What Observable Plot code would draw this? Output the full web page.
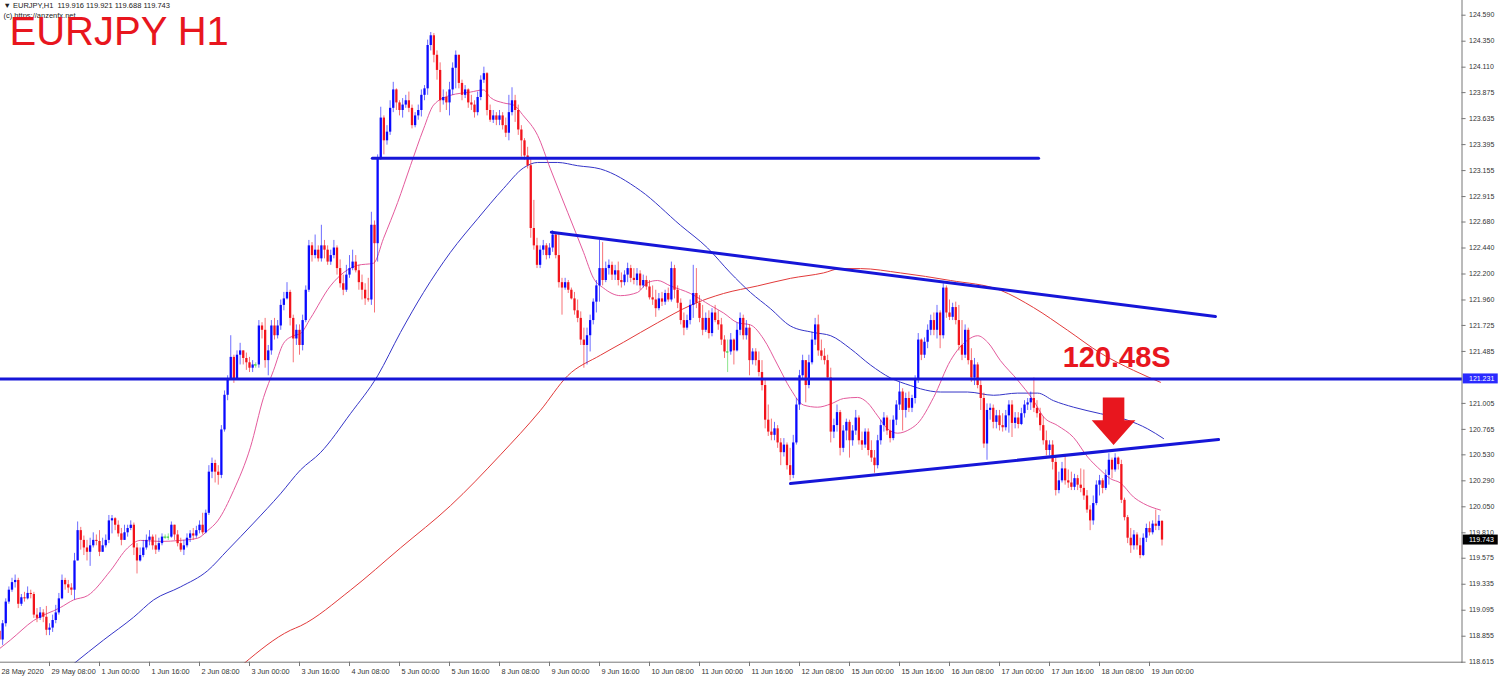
<!DOCTYPE html>
<html><head><meta charset="utf-8">
<script src="https://cdn.jsdelivr.net/npm/d3@7"></script>
<script src="https://cdn.jsdelivr.net/npm/@observablehq/plot@0.6"></script>
<style>
html,body{margin:0;padding:0;background:#fff;}
#chart{width:1500px;height:681px;overflow:hidden;}
svg{display:block;}
</style></head><body><div id="chart"></div>
<script>
// ---- hourly EURJPY bars, index 0 = 28 May 16:00 ----
const firstOpen = 118.90;
const closes = [
/*0*/ 118.82,118.97,119.17,119.28,119.35,119.37,119.15,119.21,119.20,119.25,
/*10*/119.24,119.05,119.02,119.07,119.03,118.91,118.93,119.00,119.07,119.20,
/*20*/119.37,119.33,119.30,119.28,119.55,119.83,119.74,119.67,119.63,119.69,
/*30*/119.74,119.73,119.63,119.69,119.74,119.92,119.94,119.88,119.80,119.74,
/*40*/119.81,119.85,119.88,119.67,119.55,119.60,119.67,119.74,119.77,119.69,
/*50*/119.65,119.71,119.77,119.77,119.77,119.88,119.79,119.71,119.65,119.69,
/*60*/119.76,119.80,119.78,119.83,119.88,119.81,119.99,120.37,120.45,120.37,
/*70*/120.34,120.76,121.08,121.22,121.43,121.22,121.45,121.49,121.42,121.38,
/*80*/121.33,121.36,121.36,121.72,121.68,121.40,121.49,121.72,121.63,121.72,
/*90*/121.91,121.97,122.03,121.79,121.60,121.68,121.54,121.77,122.05,122.46,
/*100*/122.37,122.42,122.34,122.46,122.42,122.31,122.37,122.44,122.25,122.11,
/*110*/122.05,122.19,122.25,122.31,122.23,122.12,122.05,121.97,121.96,122.65,
/*120*/122.48,123.27,123.64,123.43,123.51,123.73,123.90,123.78,123.71,123.76,
/*130*/123.80,123.73,123.57,123.66,123.71,123.85,123.91,124.31,124.40,124.22,
/*140*/124.08,123.80,123.83,123.78,123.90,124.10,124.22,123.96,123.85,123.90,
/*150*/123.78,123.76,123.69,123.83,123.99,124.05,123.71,123.62,123.66,123.62,
/*160*/123.66,123.57,123.50,123.69,123.80,123.71,123.53,123.43,123.29,123.20,
/*170*/122.62,122.46,122.28,122.42,122.46,122.37,122.44,122.56,122.37,122.12,
/*180*/122.07,122.12,122.05,121.97,121.86,121.79,121.59,121.54,121.63,121.77,
/*190*/121.94,122.09,122.25,122.14,122.25,122.28,122.19,122.23,122.14,122.12,
/*200*/122.19,122.25,122.16,122.14,122.20,122.09,122.14,122.08,121.98,121.96,
/*210*/121.88,121.97,121.94,122.02,121.96,122.25,122.05,121.93,121.77,121.70,
/*220*/121.77,121.91,122.02,121.93,121.79,121.68,121.79,121.65,121.84,121.77,
/*230*/121.73,121.59,121.48,121.48,121.59,121.49,121.68,121.79,121.63,121.70,
/*240*/121.40,121.48,121.40,121.29,121.17,120.85,120.74,120.71,120.77,120.64,
/*250*/120.55,120.62,120.43,120.34,120.64,120.99,121.26,121.40,121.17,121.38,
/*260*/121.59,121.73,121.49,121.44,121.40,121.24,120.74,120.80,120.92,120.59,
/*270*/120.75,120.83,120.66,120.75,120.87,120.66,120.62,120.74,120.57,120.50,
/*280*/120.43,120.66,120.80,120.87,120.75,120.68,120.85,120.99,121.11,120.94,
/*290*/121.05,120.96,121.05,121.22,121.59,121.45,121.57,121.68,121.77,121.68,
/*300*/121.84,121.63,122.07,121.84,121.80,121.89,121.77,121.54,121.45,121.68,
/*310*/121.40,121.24,121.36,121.17,121.05,120.63,120.94,120.96,120.83,120.89,
/*320*/120.80,120.78,120.89,120.99,120.82,120.87,120.81,120.91,120.99,121.01,
/*330*/121.05,120.96,120.91,120.80,120.66,120.57,120.62,120.46,120.20,120.29,
/*340*/120.40,120.29,120.27,120.23,120.31,120.25,120.22,120.15,120.02,119.92,
/*350*/120.08,120.25,120.29,120.22,120.34,120.48,120.39,120.50,120.44,120.11,
/*360*/119.95,119.76,119.69,119.79,119.69,119.60,119.76,119.85,119.81,119.89,
/*370*/119.87,119.916,119.743];
const highs = [
/*0*/ 118.86,119.00,119.20,119.31,119.39,119.42,119.39,119.24,119.26,119.31,
/*10*/119.28,119.26,119.11,119.12,119.10,119.13,118.97,119.05,119.14,119.25,
/*20*/119.42,119.39,119.37,119.34,119.62,119.91,119.86,119.78,119.74,119.76,
/*30*/119.81,119.79,119.83,119.76,119.79,119.97,119.97,119.95,119.92,119.85,
/*40*/119.88,119.88,119.92,119.90,119.71,119.67,119.74,119.79,119.83,119.79,
/*50*/119.79,119.76,119.80,119.79,119.80,119.91,119.88,119.83,119.76,119.74,
/*60*/119.80,119.83,119.85,119.87,119.92,119.99,120.02,120.43,120.50,120.48,
/*70*/120.43,120.80,121.12,121.26,121.63,121.45,121.49,121.56,121.49,121.47,
/*80*/121.43,121.40,121.38,121.77,121.75,121.79,121.54,121.77,121.79,121.77,
/*90*/121.96,122.03,122.12,122.05,121.82,121.73,121.73,121.82,122.09,122.51,
/*100*/122.49,122.56,122.46,122.65,122.51,122.46,122.42,122.51,122.46,122.33,
/*110*/122.19,122.28,122.37,122.42,122.37,122.28,122.19,122.11,122.16,122.77,
/*120*/122.69,123.30,123.74,123.66,123.57,123.80,123.97,123.91,123.80,123.82,
/*130*/123.85,123.88,123.76,123.69,123.76,123.90,123.94,124.36,124.43,124.42,
/*140*/124.26,124.15,123.90,123.88,123.97,124.15,124.26,124.22,123.99,123.94,
/*150*/123.91,123.85,123.80,123.88,124.03,124.11,124.06,123.76,123.71,123.69,
/*160*/123.71,123.69,123.64,123.85,123.92,123.85,123.76,123.57,123.45,123.37,
/*170*/123.27,122.88,122.53,122.46,122.51,122.48,122.48,122.60,122.58,122.58,
/*180*/122.16,122.16,122.14,122.07,122.03,121.96,121.85,121.70,121.70,121.82,
/*190*/121.97,122.14,122.51,122.49,122.31,122.33,122.31,122.28,122.31,122.21,
/*200*/122.23,122.30,122.28,122.25,122.25,122.23,122.19,122.18,122.14,122.09,
/*210*/122.05,122.02,122.03,122.05,122.07,122.31,122.28,122.09,121.97,121.84,
/*220*/121.82,121.96,122.28,122.25,122.00,121.91,121.84,121.86,121.88,121.91,
/*230*/121.86,121.79,121.63,121.59,121.65,121.60,121.75,121.84,121.82,121.77,
/*240*/121.73,121.51,121.51,121.48,121.40,121.22,120.99,120.86,120.83,120.80,
/*250*/120.68,120.68,120.64,120.59,120.71,121.05,121.31,121.45,121.38,121.45,
/*260*/121.66,121.79,121.82,121.59,121.51,121.45,121.33,120.86,120.99,120.94,
/*270*/120.80,120.86,120.85,120.80,120.94,120.89,120.74,120.77,120.77,120.66,
/*280*/120.57,120.71,120.85,120.92,120.89,120.85,120.89,121.03,121.20,121.14,
/*290*/121.10,121.11,121.08,121.26,121.65,121.60,121.61,121.73,121.82,121.84,
/*300*/121.91,121.86,122.11,122.09,121.96,121.93,121.94,121.91,121.77,121.73,
/*310*/121.70,121.51,121.42,121.38,121.22,121.10,121.00,121.00,120.99,120.94,
/*320*/120.94,120.91,120.94,121.03,121.03,120.92,120.92,120.96,121.03,121.05,
/*330*/121.11,121.24,121.03,120.96,120.88,120.75,120.66,120.66,120.50,120.37,
/*340*/120.46,120.52,120.39,120.37,120.35,120.34,120.40,120.39,120.20,120.06,
/*350*/120.15,120.29,120.34,120.31,120.39,120.54,120.50,120.54,120.51,120.48,
/*360*/120.13,119.97,119.85,119.83,119.81,119.76,119.80,119.89,119.91,119.92,
/*370*/120.02,119.97,119.921];
const lows = [
/*0*/ 118.74,118.77,118.94,119.15,119.26,119.30,119.11,119.13,119.17,119.19,
/*10*/119.20,119.02,118.98,119.00,118.98,118.86,118.86,118.89,118.97,119.05,
/*20*/119.19,119.28,119.25,119.23,119.19,119.55,119.65,119.60,119.55,119.50,
/*30*/119.67,119.69,119.59,119.63,119.67,119.71,119.80,119.83,119.77,119.69,
/*40*/119.74,119.77,119.83,119.60,119.43,119.54,119.58,119.65,119.69,119.65,
/*50*/119.61,119.63,119.69,119.75,119.74,119.76,119.74,119.68,119.63,119.60,
/*60*/119.67,119.72,119.74,119.76,119.80,119.79,119.80,119.97,120.31,120.27,
/*70*/120.25,120.31,120.74,121.03,121.22,121.19,121.22,121.36,121.36,121.31,
/*80*/121.29,121.29,121.33,121.33,121.60,121.33,121.26,121.45,121.59,121.60,
/*90*/121.68,121.86,121.96,121.72,121.38,121.54,121.45,121.49,121.75,122.03,
/*100*/122.31,122.34,122.31,122.31,122.34,122.28,122.28,122.34,122.19,122.07,
/*110*/122.00,122.03,122.16,122.23,122.21,122.05,121.96,121.91,121.94,121.91,
/*120*/121.84,122.31,123.25,123.30,123.39,123.48,123.69,123.71,123.66,123.64,
/*130*/123.73,123.69,123.54,123.55,123.62,123.65,123.80,123.85,124.26,124.15,
/*140*/123.99,123.69,123.76,123.71,123.66,123.85,123.91,123.91,123.80,123.82,
/*150*/123.73,123.71,123.64,123.66,123.80,123.96,123.66,123.60,123.59,123.57,
/*160*/123.57,123.53,123.46,123.43,123.66,123.60,123.48,123.28,123.25,123.17,
/*170*/122.53,122.42,122.25,122.25,122.37,122.33,122.34,122.40,122.34,122.07,
/*180*/121.82,122.05,122.02,121.96,121.82,121.75,121.54,121.33,121.36,121.48,
/*190*/121.73,121.84,121.94,122.09,122.12,122.19,122.14,122.14,122.09,122.07,
/*200*/122.09,122.12,122.12,122.10,122.09,122.05,122.07,122.05,121.96,121.91,
/*210*/121.80,121.86,121.90,121.91,121.94,121.94,121.97,121.88,121.73,121.63,
/*220*/121.68,121.73,121.79,121.88,121.75,121.63,121.66,121.60,121.62,121.75,
/*230*/121.68,121.54,121.42,121.29,121.45,121.36,121.48,121.63,121.59,121.59,
/*240*/121.26,121.36,121.35,121.25,121.12,120.77,120.70,120.66,120.66,120.59,
/*250*/120.43,120.51,120.39,120.29,120.31,120.62,120.94,121.22,121.01,121.14,
/*260*/121.36,121.54,121.44,121.40,121.36,121.22,120.64,120.68,120.74,120.52,
/*270*/120.55,120.66,120.50,120.61,120.71,120.62,120.57,120.59,120.52,120.46,
/*280*/120.36,120.40,120.62,120.74,120.71,120.64,120.66,120.80,120.94,120.75,
/*290*/120.87,120.92,120.92,121.00,121.19,121.40,121.42,121.51,121.63,121.63,
/*300*/121.60,121.51,121.60,121.79,121.77,121.77,121.73,121.49,121.40,121.42,
/*310*/121.36,121.20,121.17,121.14,120.94,120.59,120.48,120.85,120.77,120.77,
/*320*/120.75,120.74,120.75,120.73,120.69,120.77,120.77,120.80,120.87,120.94,
/*330*/120.94,120.92,120.87,120.75,120.62,120.52,120.52,120.39,120.15,120.17,
/*340*/120.27,120.25,120.22,120.20,120.20,120.20,120.18,120.11,119.99,119.83,
/*350*/119.88,120.06,120.15,120.17,120.20,120.25,120.31,120.37,120.39,120.08,
/*360*/119.92,119.71,119.62,119.65,119.65,119.57,119.59,119.72,119.78,119.79,
/*370*/119.83,119.83,119.688];

// moving averages: [bar index, price]
const pinkMA = [[0,118.74],[3.5,118.82],[10.9,119.00],[19.5,119.12],[23.7,119.19],[28.2,119.23],[35.5,119.46],[41,119.67],[45.1,119.74],[51.5,119.73],[57.9,119.74],[63.4,119.76],[66.6,119.83],[69.8,119.92],[74.9,120.20],[80.3,120.60],[84.5,121.06],[87.7,121.31],[90.9,121.56],[94.1,121.63],[96.3,121.65],[99.5,121.79],[105.9,122.09],[114.6,122.28],[119.7,122.30],[122.9,122.53],[127.4,122.86],[131.5,123.20],[135.7,123.54],[138.9,123.76],[144.3,123.85],[150.7,123.88],[154.9,123.90],[157.1,123.83],[161.3,123.78],[164.5,123.76],[167.7,123.66],[172.2,123.48],[176.3,123.17],[181.8,122.77],[186.9,122.40],[190.1,122.16],[193.3,122.07],[198.7,122.00],[204.2,122.03],[207.4,122.12],[210.6,122.14],[214.7,122.09],[221.1,122.02],[227.5,121.91],[231.7,121.84],[236.2,121.75],[240.3,121.73],[244.5,121.60],[249,121.36],[253.1,121.14],[257.3,120.99],[261.8,120.97],[266,121.00],[270.1,121.05],[274.6,121.06],[277.8,121.01],[281,120.89],[284.2,120.77],[287.4,120.73],[291.5,120.77],[293.8,120.82],[298.9,121.06],[304.3,121.40],[309.8,121.59],[313,121.63],[316.2,121.57],[320.3,121.40],[325.8,121.22],[330.9,121.03],[334.1,120.88],[338.6,120.80],[343.7,120.69],[348.2,120.51],[352.3,120.39],[355.5,120.31],[358.7,120.27],[362.9,120.14],[366.1,120.08],[371.5,120.02]];
const blueMA = [[23.7,118.60],[33.3,118.82],[42.9,119.03],[49.3,119.19],[57.9,119.31],[66.6,119.46],[73,119.65],[81.3,119.90],[89.9,120.17],[96.3,120.39],[102.7,120.55],[112.3,120.91],[121,121.26],[128.3,121.66],[135.7,122.03],[144.3,122.40],[153,122.71],[161.3,122.99],[167.7,123.18],[172.2,123.23],[178.6,123.23],[185,123.20],[192.3,123.17],[205.1,122.97],[217.9,122.65],[226.6,122.44],[233.9,122.21],[240.3,122.03],[246.7,121.88],[253.1,121.72],[260.5,121.66],[266,121.63],[272.3,121.51],[278.7,121.36],[285.1,121.24],[291.5,121.17],[294.7,121.14],[301.1,121.11],[309.8,121.11],[318.1,121.08],[325.8,121.10],[332.2,121.10],[337.3,121.03],[343.7,120.97],[352.3,120.91],[361,120.85],[367.4,120.77],[372.5,120.68]];
const redMA = [[78.1,118.60],[93.1,118.91],[96.3,118.95],[112.3,119.28],[128.3,119.67],[144.3,120.06],[160.3,120.53],[173.1,120.94],[181.8,121.26],[192.3,121.45],[199.7,121.57],[210.6,121.75],[221.1,121.91],[231.7,122.02],[242.6,122.09],[253.1,122.16],[263.7,122.21],[269.1,122.25],[275.5,122.25],[288.3,122.21],[304.3,122.14],[320.3,122.05],[330.9,121.89],[341.8,121.68],[352.3,121.47],[362.9,121.31],[371.5,121.20]];

// drawn lines
const supportLevel = 121.231;
const resistance = [[119.3,123.27],[332.5,123.27]];
const descLine = [[176.6,122.586],[389.1,121.808]];
const ascLine = [[253.1,120.265],[390.1,120.671]];
const arrowTip = [356.5,120.62];
const note = [340.2,121.337,"120.48S"];

// axis labels
const xTickIdx = [0,16,32,48,64,80,96,112,128,144,160,176,192,208,224,240,256,272,288,304,320,336,352,368];
const xTickText = ["28 May 2020","29 May 08:00","1 Jun 00:00","1 Jun 16:00","2 Jun 08:00","3 Jun 00:00","3 Jun 16:00","4 Jun 08:00","5 Jun 00:00","5 Jun 16:00","8 Jun 08:00","9 Jun 00:00","9 Jun 16:00","10 Jun 08:00","11 Jun 00:00","11 Jun 16:00","12 Jun 08:00","15 Jun 00:00","15 Jun 16:00","16 Jun 08:00","17 Jun 00:00","17 Jun 16:00","18 Jun 08:00","19 Jun 00:00"];
const yTickText = ["124.590","124.350","124.110","123.875","123.635","123.395","123.155","122.915","122.680","122.440","122.200","121.960","121.725","121.485","121.005","120.765","120.530","120.290","120.050","119.810","119.575","119.335","119.095","118.855","118.615"];
const lastPrice = "119.743";
const header = "\u25BC EURJPY,H1  119.916 119.921 119.688 119.743";
const credit = "(c) https://anzenfx.net";
const bigTitle = "EURJPY H1";

// ---- build ----
const X0 = 0, X1 = 468, Y0 = 118.615, Y1 = 124.59;
const bars = closes.map((c, i) => {
  const o = i === 0 ? firstOpen : closes[i - 1];
  return {i, o, c, h: Math.max(highs[i], o, c), l: Math.min(lows[i], o, c),
    dir: Math.abs(c - o) < 0.004 ? "doji" : (c > o ? "up" : "down")};
});
const UP = "#0a0aff", DOWN = "#f2141c", DOJI = "#3fd23f";
const colorOf = d => d.dir === "up" ? UP : d.dir === "down" ? DOWN : DOJI;
const LINE = "#1616d8";
const RED = "#e8161e";

const pts = a => a.map(([i, p]) => ({i, p}));
const [ai, ap] = arrowTip;
const headW = 7, shaftW = 3.45, headH = 0.23, shaftH = 0.44;
const arrow = [[ai - shaftW, ap + shaftH], [ai + shaftW, ap + shaftH], [ai + shaftW, ap + headH], [ai + headW, ap + headH], [ai, ap], [ai - headW, ap + headH], [ai - shaftW, ap + headH], [ai - shaftW, ap + shaftH]];

const yTicks = yTickText.map(t => ({v: +t, t}));
const xTicks = xTickIdx.map((i, k) => ({i, t: xTickText[k]}));
const boxH = 0.046;
const labelRight = 479.6;

const chart = Plot.plot({
  width: 1500, height: 681,
  marginLeft: 0, marginRight: 38, marginTop: 0, marginBottom: 18,
  x: {domain: [X0, X1], range: [-1, 1461.5], axis: null},
  y: {domain: [Y0, Y1], range: [661.7, 14.7], axis: null},
  style: {fontFamily: "'Liberation Sans', Arial, sans-serif", background: "#fff", overflow: "visible"},
  marks: [
    // moving averages
    Plot.line(pts(redMA), {x: "i", y: "p", stroke: "#e23a3a", strokeWidth: 1, curve: "monotone-x", clip: true}),
    Plot.line(pts(blueMA), {x: "i", y: "p", stroke: "#3535c8", strokeWidth: 1, curve: "monotone-x", clip: true}),
    Plot.line(pts(pinkMA), {x: "i", y: "p", stroke: "#e45a9c", strokeWidth: 1, curve: "monotone-x", clip: true}),
    // candles
    Plot.ruleX(bars, {x: "i", y1: "l", y2: "h", stroke: colorOf, strokeWidth: 1, strokeOpacity: 0.6, clip: true}),
    Plot.ruleX(bars.filter(d => d.dir !== "doji"), {x: "i", y1: "o", y2: "c", stroke: colorOf, strokeWidth: 2.3, clip: true}),
    Plot.ruleY(bars.filter(d => d.dir === "doji"), {y: "c", x1: d => d.i - 0.4, x2: d => d.i + 0.4, stroke: DOJI, strokeWidth: 1.2}),
    // drawn lines
    Plot.ruleY([supportLevel], {stroke: LINE, strokeWidth: 3}),
    Plot.line(pts(resistance), {x: "i", y: "p", stroke: LINE, strokeWidth: 3}),
    Plot.line(pts(descLine), {x: "i", y: "p", stroke: LINE, strokeWidth: 3}),
    Plot.line(pts(ascLine), {x: "i", y: "p", stroke: LINE, strokeWidth: 3}),
    // arrow + note
    Plot.line(pts(arrow), {x: "i", y: "p", fill: RED, stroke: "none"}),
    Plot.text([note], {x: d => d[0], y: d => d[1], text: d => d[2], textAnchor: "start", lineAnchor: "bottom", fontSize: 29, fontWeight: "bold", fill: RED}),
    // axes frame
    Plot.ruleY([Y0], {stroke: "#777", strokeWidth: 1}),
    Plot.ruleX([X1], {stroke: "#777", strokeWidth: 1}),
    // right axis ticks + labels
    Plot.ruleY(yTicks, {y: "v", x1: () => X1, x2: () => X1 + 1.3, stroke: "#777"}),
    Plot.text(yTicks, {x: () => X1, y: "v", text: "t", textAnchor: "start", dx: 7, fontSize: 7, fill: "#333"}),
    Plot.rect([supportLevel], {x1: () => X1 + 0.4, x2: () => labelRight, y1: d => d - boxH, y2: d => d + boxH, fill: "#2a2aff"}),
    Plot.text([supportLevel], {x: () => X1, y: d => d, text: d => d.toFixed(3), textAnchor: "start", dx: 7, fontSize: 7, fill: "#fff"}),
    Plot.rect([+lastPrice], {x1: () => X1 + 0.4, x2: () => labelRight, y1: d => d - boxH, y2: d => d + boxH, fill: "#000"}),
    Plot.text([lastPrice], {x: () => X1, y: d => +d, text: d => d, textAnchor: "start", dx: 7, fontSize: 7, fill: "#fff"}),
    // bottom axis ticks + labels
    Plot.ruleX(xTicks, {x: "i", y1: () => Y0, y2: () => Y0 - 0.04, stroke: "#777"}),
    Plot.text(xTicks, {x: "i", y: () => Y0, text: "t", textAnchor: "start", dx: 2, dy: 9, fontSize: 7.3, fill: "#333"}),
    // header texts
    Plot.text([header], {frameAnchor: "top-left", text: d => d, dx: 3, dy: 2, lineAnchor: "top", textAnchor: "start", fontSize: 7.5, fill: "#222"}),
    Plot.text([credit], {frameAnchor: "top-left", text: d => d, dx: 3, dy: 12, lineAnchor: "top", textAnchor: "start", fontSize: 7.5, fill: "#222"}),
    Plot.text([bigTitle], {frameAnchor: "top-left", text: d => d, dx: 9, dy: 16, lineAnchor: "top", textAnchor: "start", fontSize: 40, fill: RED})
  ]
});
document.getElementById("chart").appendChild(chart);
</script>
</body></html>
